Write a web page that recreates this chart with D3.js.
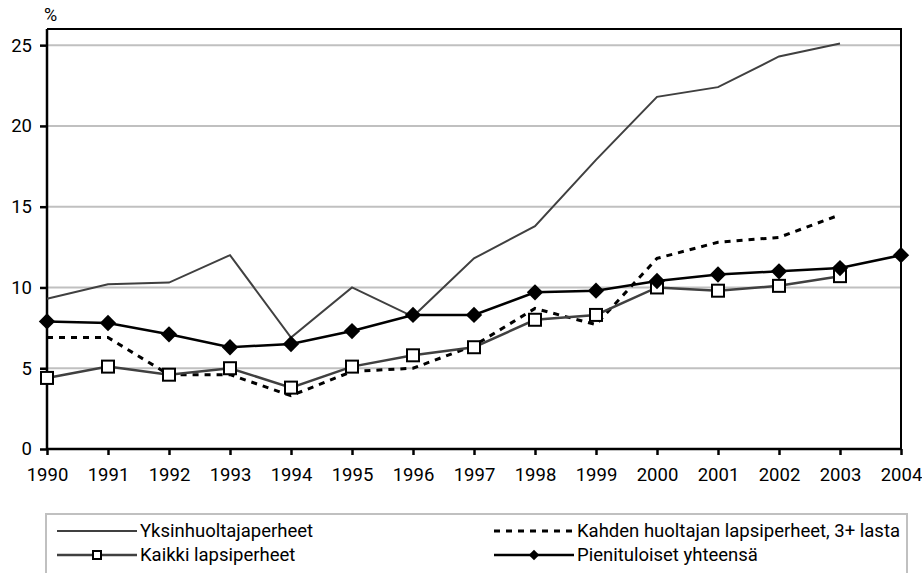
<!DOCTYPE html>
<html lang="fi">
<head>
    <meta charset="UTF-8">
    <title>Pienituloiset lapsiperheet</title>
    <style>
        html, body {
            margin: 0;
            padding: 0;
            background-color: #ffffff;
            font-family: Roboto, 'Open Sans', sans-serif;
            color: #000;
        }
        svg text { fill: #000; }
    </style>
</head>
<body>
    <div id="graph"></div>
    <script src="https://d3js.org/d3.v7.min.js"></script>
    <script>
        const years = [1990, 1991, 1992, 1993, 1994, 1995, 1996, 1997, 1998, 1999, 2000, 2001, 2002, 2003, 2004];
        const yTicks = [0, 5, 10, 15, 20, 25];

        const yksinhuoltajat = [9.3, 10.2, 10.3, 12.0, 6.9, 10.0, 8.2, 11.8, 13.8, 17.9, 21.8, 22.4, 24.3, 25.1];
        const kahdenHuoltajan = [6.9, 6.9, 4.6, 4.6, 3.3, 4.8, 5.0, 6.4, 8.7, 7.7, 11.8, 12.8, 13.1, 14.5];
        const kaikki = [4.4, 5.1, 4.6, 5.0, 3.8, 5.1, 5.8, 6.3, 8.0, 8.3, 10.0, 9.8, 10.1, 10.7];
        const pienituloiset = [7.9, 7.8, 7.1, 6.3, 6.5, 7.3, 8.3, 8.3, 9.7, 9.8, 10.4, 10.8, 11.0, 11.2, 12.0];

        const margin = {top: 29, left: 47, bottom: 124, right: 21};
        const fullW = 922, fullH = 573;
        const width = fullW - margin.left - margin.right;
        const height = fullH - margin.top - margin.bottom;

        const svg = d3.select("#graph")
            .append("svg")
            .attr("width", fullW)
            .attr("height", fullH)
            .style("font-family", "Roboto, 'Open Sans', sans-serif");

        const g = svg.append("g")
            .attr("transform", `translate(${margin.left}, ${margin.top})`);

        const x = d3.scaleLinear().domain([1990, 2004]).range([0, width]);
        const y = d3.scaleLinear().domain([0, 26]).range([height, 0]);

        // GRIDLINES
        g.selectAll("line.grid")
            .data(yTicks.filter(d => d > 0))
            .enter()
            .append("line")
            .attr("class", "grid")
            .attr("x1", 0).attr("x2", width)
            .attr("y1", d => y(d)).attr("y2", d => y(d))
            .style("stroke", "#c0c0c0")
            .style("stroke-width", 2);

        // PLOT FRAME (top, right)
        g.append("path")
            .attr("d", `M0,${y(26)}H${width}V${height}`)
            .style("fill", "none")
            .style("stroke", "#000")
            .style("stroke-width", 2);

        // AXES
        const yAxis = d3.axisLeft(y).tickValues(yTicks).tickSize(7).tickPadding(8);
        const yG = g.append("g").call(yAxis);
        yG.select(".domain").remove();
        yG.append("line")
            .attr("x1", 0).attr("x2", 0)
            .attr("y1", y(26)).attr("y2", height)
            .style("stroke", "#000").style("stroke-width", 2.5);

        const xAxis = d3.axisBottom(x).tickValues(years).tickFormat(d3.format("d")).tickSize(6).tickPadding(13);
        const xG = g.append("g").attr("transform", `translate(0, ${height})`).call(xAxis);
        xG.select(".domain").remove();
        xG.append("line")
            .attr("x1", 0).attr("x2", width)
            .style("stroke", "#000").style("stroke-width", 2.5);

        [yG, xG].forEach(a => {
            a.selectAll(".tick line").style("stroke", "#000").style("stroke-width", 2.5);
            a.selectAll(".tick text")
                .style("font-family", "Roboto, 'Open Sans', sans-serif")
                .style("font-size", "18.5px");
        });

        g.append("text")
            .attr("x", -3)
            .attr("y", -8)
            .style("font-size", "18px")
            .text("%");

        // SERIES
        const line = d3.line()
            .x((d, i) => x(years[i]))
            .y(d => y(d));

        g.append("path").datum(yksinhuoltajat)
            .attr("d", line)
            .style("fill", "none").style("stroke", "#404040").style("stroke-width", 2);

        g.append("path").datum(kahdenHuoltajan)
            .attr("d", line)
            .style("fill", "none").style("stroke", "#000")
            .style("stroke-width", 3).style("stroke-dasharray", "6,6");

        g.append("path").datum(kaikki)
            .attr("d", line)
            .style("fill", "none").style("stroke", "#404040").style("stroke-width", 2.5);

        g.append("path").datum(pienituloiset)
            .attr("d", line)
            .style("fill", "none").style("stroke", "#000").style("stroke-width", 2.5);

        g.selectAll("rect.kaikki")
            .data(kaikki).enter()
            .append("rect")
            .attr("class", "kaikki")
            .attr("x", (d, i) => x(years[i]) - 6)
            .attr("y", d => y(d) - 6)
            .attr("width", 12).attr("height", 12)
            .style("fill", "#fff").style("stroke", "#000").style("stroke-width", 2);

        const diamond = d3.symbol().type(d3.symbolDiamond2).size(170);
        g.selectAll("path.pien")
            .data(pienituloiset).enter()
            .append("path")
            .attr("class", "pien")
            .attr("d", diamond)
            .attr("transform", (d, i) => `translate(${x(years[i])}, ${y(d)})`)
            .style("fill", "#000");

        // LEGEND
        const legend = svg.append("g");
        legend.append("rect")
            .attr("x", 46).attr("y", 514)
            .attr("width", 861).attr("height", 70)
            .style("fill", "none").style("stroke", "#c0c0c0").style("stroke-width", 2);

        const items = [
            {name: "Yksinhuoltajaperheet", x: 57, y: 531, stroke: "#404040", w: 2, dash: null, marker: null},
            {name: "Kahden huoltajan lapsiperheet, 3+ lasta", x: 494, y: 531, stroke: "#000", w: 3, dash: "6,6", marker: null},
            {name: "Kaikki lapsiperheet", x: 57, y: 555, stroke: "#404040", w: 2.5, dash: null, marker: "square"},
            {name: "Pienituloiset yhteensä", x: 494, y: 555, stroke: "#000", w: 2.5, dash: null, marker: "diamond"}
        ];
        const sampleW = 80;
        items.forEach(it => {
            legend.append("line")
                .attr("x1", it.x).attr("x2", it.x + sampleW)
                .attr("y1", it.y).attr("y2", it.y)
                .style("stroke", it.stroke).style("stroke-width", it.w)
                .style("stroke-dasharray", it.dash);
            const cx = it.x + sampleW / 2;
            if (it.marker === "square") {
                legend.append("rect")
                    .attr("x", cx - 4).attr("y", it.y - 4)
                    .attr("width", 8).attr("height", 8)
                    .style("fill", "#fff").style("stroke", "#000").style("stroke-width", 2);
            } else if (it.marker === "diamond") {
                legend.append("path")
                    .attr("d", d3.symbol().type(d3.symbolDiamond2).size(70))
                    .attr("transform", `translate(${cx}, ${it.y})`)
                    .style("fill", "#000");
            }
            legend.append("text")
                .attr("x", it.x + sampleW + 3)
                .attr("y", it.y)
                .attr("dy", "0.35em")
                .style("font-size", "18.5px")
                .text(it.name);
        });
    </script>
</body>
</html>
